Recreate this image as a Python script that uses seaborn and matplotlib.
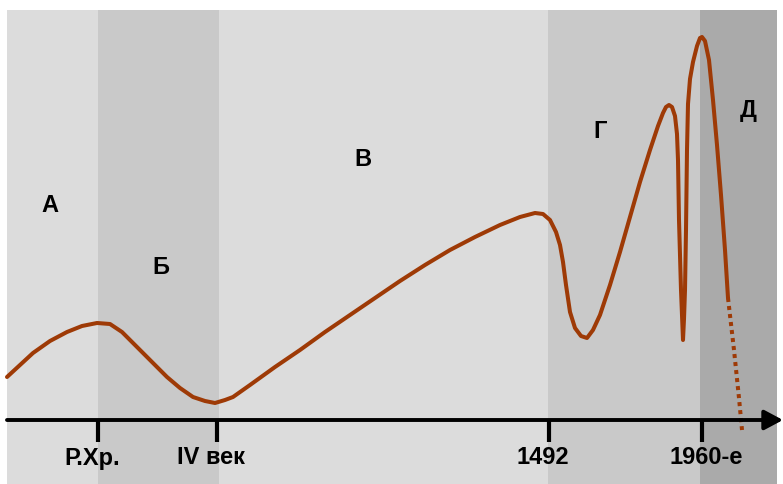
import seaborn as sns
import matplotlib.pyplot as plt

sns.set_theme(style="white")
plt.rcParams['font.family'] = ['Liberation Sans', 'DejaVu Sans']

# era bands (timeline units) and their shades
era_bounds = [7, 98, 219, 548, 700, 777]
era_colors = ['#dcdcdc', '#c9c9c9', '#dcdcdc', '#c9c9c9', '#aaaaaa']
era_letters = ['А', 'Б', 'В', 'Г', 'Д']
letter_x = [50, 161, 363, 600, 748]
letter_y = [279, 217, 324, 353, 374]

# timeline ticks
tick_x = [98, 217, 549, 702]
tick_labels = ['Р.Хр.', 'IV век', '1492', '1960-е']
label_x = [92, 211, 543, 706]

# curve
curve_x = [7, 20, 33, 50, 67, 82, 97, 110, 122, 133, 150, 167, 180, 193, 205, 215,
           225, 233, 250, 275, 300, 325, 350, 375, 400, 425, 450, 475, 500, 520, 535,
           543, 550, 556, 560, 563, 566, 570, 575, 581, 587, 593, 600, 610, 620, 630,
           640, 650, 658, 663, 666, 669, 672, 675, 677, 678, 679, 681, 683, 684, 685,
           686, 687, 688, 690, 693, 697, 700, 702, 705, 709, 713, 717, 721, 725, 728]
curve_y = [107, 119, 131, 143, 152, 158, 161, 160, 152, 141, 124, 107, 96, 87, 83, 81,
           84, 87, 99, 117, 134, 152, 169, 186, 203, 219, 234, 247, 259, 267, 271,
           270, 264, 252, 239, 222, 199, 172, 156, 148, 146, 154, 169, 199, 232, 267,
           302, 334, 358, 371, 377, 379, 377, 368, 350, 324, 264, 194, 144, 165, 194,
           254, 334, 380, 405, 422, 438, 446, 447, 443, 424, 384, 339, 289, 234, 186]
# forecast part (dotted)
future_x = [728, 734, 739, 742]
future_y = [186, 134, 86, 54]

axis_y = 64
curve_color = '#9e3a06'

fig = plt.figure(figsize=(7.83, 4.84), dpi=100)
ax = fig.add_axes([0, 0, 1, 1])
ax.set_xlim(0, 783)
ax.set_ylim(0, 484)
ax.axis('off')

for i, c in enumerate(era_colors):
    ax.axvspan(era_bounds[i], era_bounds[i + 1], ymin=0, ymax=474 / 484, color=c, lw=0, zorder=0)

for lx, ly, t in zip(letter_x, letter_y, era_letters):
    ax.text(lx, ly, t, ha='center', va='center', fontsize=17, fontweight='bold', color='black')

sns.lineplot(x=curve_x, y=curve_y, sort=False, estimator=None, ax=ax,
             color=curve_color, lw=2.9, zorder=3)
sns.lineplot(x=future_x, y=future_y, sort=False, estimator=None, ax=ax,
             color=curve_color, lw=2.9, zorder=3)
ax.lines[-1].set_linestyle((0, (1, 1)))
ax.lines[-1].set_dash_capstyle('butt')

# time axis with arrow
ax.annotate('', xy=(783, axis_y), xytext=(7, axis_y), annotation_clip=False,
            arrowprops=dict(arrowstyle='-|>,head_length=0.75,head_width=0.4',
                            mutation_scale=15, lw=2.8, color='black',
                            shrinkA=0, shrinkB=0), zorder=4)
ax.vlines(tick_x, 42, axis_y, color='black', lw=3, zorder=4)
for lx, t in zip(label_x, tick_labels):
    ax.text(lx, 26, t, ha='center', va='center', fontsize=17, fontweight='bold', color='black')

fig.savefig('out.png', dpi=100)
